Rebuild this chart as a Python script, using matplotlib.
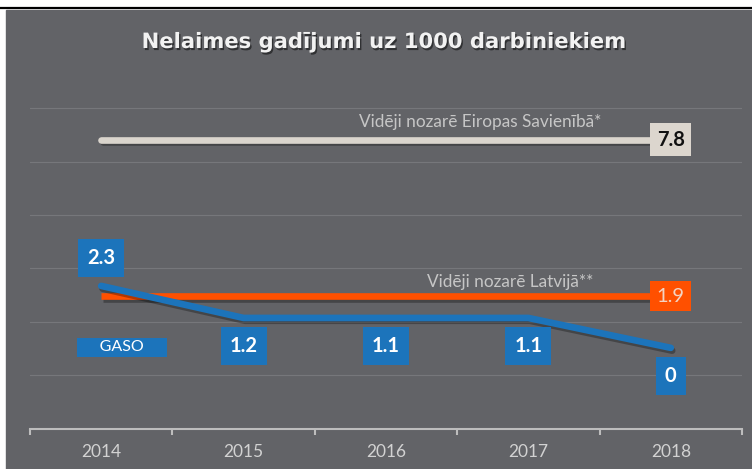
import numpy as np
from matplotlib import pyplot as plt
from matplotlib import patheffects as pe
from matplotlib.patches import Rectangle
from matplotlib.lines import Line2D

years = ["2014", "2015", "2016", "2017", "2018"]
# GASO series: drawn height in the chart and the printed value
gaso_level = [2.67, 2.07, 2.07, 2.07, 1.51]
gaso_labels = ["2.3", "1.2", "1.1", "1.1", "0"]
# industry averages (constant lines)
eu_level = 5.41
eu_label = "7.8"
eu_name = "Vidēji nozarē Eiropas Savienībā*"
lv_level = 2.48
lv_label = "1.9"
lv_name = "Vidēji nozarē Latvijā**"

title = "Nelaimes gadījumi uz 1000 darbiniekiem"

bg = "#626367"
blue = "#1c74bb"
orange = "#ff5000"
white_line = "#dad5cd"
grid_c = "#76777b"
axis_c = "#bdbdbd"

plt.rcParams["font.family"] = ["Lato", "DejaVu Sans"]

if __name__ == '__main__':
    W, H = 752, 469
    fig = plt.figure(figsize=(W / 100, H / 100), dpi=100, facecolor="white")
    fig.patches.append(Rectangle((6 / W, 0), 1 - 6 / W, (H - 10) / H,
                                 transform=fig.transFigure, color=bg, zorder=-5))
    fig.lines.append(Line2D([0, 1], [1 - 8 / H, 1 - 8 / H], transform=fig.transFigure,
                            color="black", lw=1.6, zorder=-5))

    ax = fig.add_axes([30 / W, (H - 428.5) / H, 712 / W, 373.8 / H])
    ax.set_facecolor("none")
    ax.set_xlim(-0.5, 4.5)
    ax.set_ylim(0, 7)

    for s in ["top", "left", "right"]:
        ax.spines[s].set_visible(False)
    ax.spines["bottom"].set_color(axis_c)
    ax.spines["bottom"].set_linewidth(1.5)

    x = np.arange(len(years))
    ax.set_xticks(np.arange(-0.5, len(years), 1))
    ax.set_xticklabels([])
    ax.tick_params(axis="x", which="major", length=4, width=1.5, color=axis_c, direction="out")
    ax.set_xticks(x, minor=True)
    ax.set_xticklabels(years, minor=True)
    ax.tick_params(axis="x", which="minor", length=0, pad=11, labelsize=12.5, labelcolor="#d2d2d2")

    ax.set_yticks(range(1, 7))
    ax.tick_params(axis="y", length=0, labelleft=False)
    ax.yaxis.grid(True, color=grid_c, lw=0.8)
    ax.set_axisbelow(True)

    shadow = [pe.SimpleLineShadow(offset=(1, -2), shadow_color="black", alpha=0.3), pe.Normal()]
    ax.plot(x, [eu_level] * len(x), color=white_line, lw=4.8, solid_capstyle="round",
            path_effects=shadow, zorder=3)
    ax.plot(x, [lv_level] * len(x), color=orange, lw=4.8, solid_capstyle="butt",
            path_effects=shadow, zorder=3)
    ax.plot(x, gaso_level, color=blue, lw=4.8, solid_capstyle="round",
            path_effects=shadow, zorder=4)

    box_kw = dict(ha="center", va="center", fontsize=14.5, fontweight="bold", zorder=6)
    for i, (lev, lab) in enumerate(zip(gaso_level, gaso_labels)):
        dy = 20 if i == 0 else -20
        ax.annotate(lab, xy=(x[i], lev), xytext=(0, dy), textcoords="offset points",
                    color="white", bbox=dict(boxstyle="square,pad=0.45", fc=blue, ec="none"),
                    **box_kw)

    ax.annotate(eu_label, xy=(x[-1], eu_level), color="#111111",
                bbox=dict(boxstyle="square,pad=0.33", fc="#dcd6ce", ec="none"), **box_kw)
    ax.annotate(lv_label, xy=(x[-1], lv_level), color="#f3d3c3",
                bbox=dict(boxstyle="square,pad=0.33", fc=orange, ec="none"),
                **{**box_kw, "fontweight": "normal"})

    ax.annotate(eu_name, xy=(x[-1], eu_level), xytext=(-50, 12.6), textcoords="offset points",
                ha="right", va="center", fontsize=12.4, color="#c6c6c6")
    ax.annotate(lv_name, xy=(x[-1], lv_level), xytext=(-55.8, 10), textcoords="offset points",
                ha="right", va="center", fontsize=12.4, color="#c6c6c6")

    ax.text(0.129, 0.217, "     GASO     ", transform=ax.transAxes, ha="center", va="center",
            fontsize=11.5, color="white",
            bbox=dict(boxstyle="square,pad=0.15", fc=blue, ec="none"), zorder=6)

    fig.text(384 / W, 1 - 42 / H, title, ha="center", va="center", fontsize=15.2,
             fontweight="bold", color="#f2f2f2", family=["DejaVu Sans"],
             path_effects=[pe.SimplePatchShadow(offset=(1, -1.5), shadow_rgbFace="black", alpha=0.5),
                           pe.Normal()])

    plt.savefig("out.png", dpi=100, facecolor=fig.get_facecolor())
